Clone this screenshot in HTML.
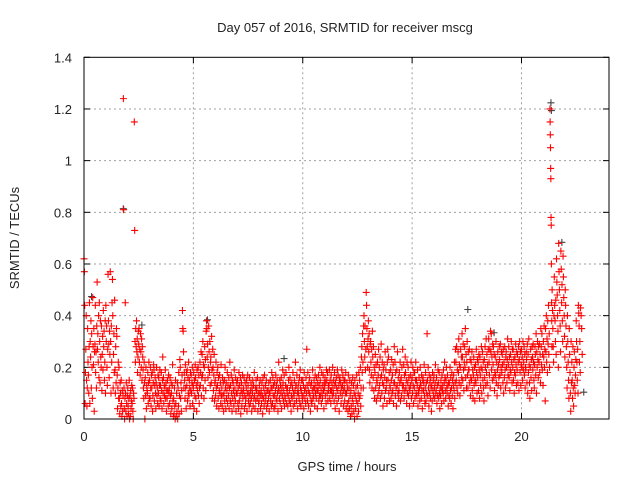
<!DOCTYPE html>
<html><head><meta charset="utf-8"><style>
body{margin:0;background:#fff}
svg{display:block;font-family:"Liberation Sans",sans-serif;font-size:13px;fill:#222}
</style></head><body>
<svg id="c" width="640" height="480" viewBox="0 0 640 480">
<text x="345" y="32" text-anchor="middle">Day 057 of 2016, SRMTID for receiver mscg</text>
<text x="347" y="471" text-anchor="middle">GPS time / hours</text>
<text transform="translate(19,238) rotate(-90)" text-anchor="middle">SRMTID / TECUs</text>
<g id="grid"></g><g id="ticks"></g><g id="pts"></g>
<rect x="84" y="57.3" width="525" height="361.7" fill="none" stroke="#000" stroke-width="1"/>
</svg>
<script>
const xTicks=[0,5,10,15,20];
const yTicks=[0,0.2,0.4,0.6,0.8,1,1.2,1.4];
const yTickLabels=["0","0.2","0.4","0.6","0.8","1","1.2","1.4"];
const binStart=0, binWidth=0.1;
const redBins=[
[62,57,44,6,18,27],[40,15,5,12,35,22],[17,10,28,45,6,30],[24,38,12,33,20,8],[47,28,21,35,3,26],
[29,44,18,26,12,36],[53,27,33,22,40,16],[45,30,14,38,24,20],[36,11,25,32,19,42],[28,34,15,22,38,10],
[44,30,36,20,13,27],[56,38,29,16,34,25],[57,30,10,36,22,45],[54,40,12,25,33,18],[46,19,10,28,14,35],
[32,17,4,12,22,8],[20,8,2,14,10,5],[15,6,1,11,3,9],[124,81,12,4,0,8,45],[10,3,14,6,1,9],
[12,5,2,8,15,0],[9,1,11,4,7,13],[6,12,3,0,10,8],[115,73,30,22,35,28],[38,26,31,18,24,34],
[29,35,22,27,17,33],[26,20,31,15,28,24],[19,12,8,22,14,0],[16,9,20,4,13,11],[10,18,6,14,22,8],
[15,8,20,12,5,17],[12,18,3,9,14,21],[19,7,13,16,10,4],[14,20,9,12,6,17],[10,16,5,13,19,8],
[13,7,18,11,4,15],[24,10,16,6,13,9],[12,19,8,14,3,11],[8,15,11,5,17,10],[12,6,16,9,2,14],
[10,4,13,21,7,1],[8,2,12,5,0,15],[6,1,10,3,14,0],[12,5,18,2,9,23],[20,8,14,3,11,17],
[42,35,34,26,12,18],[15,8,21,12,4,18],[13,19,7,16,10,22],[9,15,12,5,18,11],[17,10,14,20,6,13],
[12,18,4,15,9,21],[16,8,13,3,19,11],[14,20,9,17,6,12],[22,13,18,26,9,16],[25,17,30,12,21,8],
[20,28,15,23,11,34],[38,35,24,29,16,20],[36,26,18,30,13,22],[24,14,32,19,8,27],[20,11,17,25,7,14],
[15,9,22,12,5,18],[13,20,8,16,4,11],[17,10,14,6,21,9],[12,5,16,9,14,3],[10,15,7,20,12,4],
[14,8,11,18,6,13],[9,16,4,12,22,7],[13,6,17,10,3,15],[8,14,11,5,19,9],[12,7,16,3,10,14],
[10,15,6,12,4,18],[7,13,9,16,2,11],[14,5,10,17,8,12],[11,16,4,9,14,6],[8,12,15,3,10,17],
[13,7,10,5,16,9],[6,11,14,8,3,12],[10,15,5,13,8,18],[9,4,12,7,15,11],[12,8,16,3,10,6],
[7,13,10,15,4,9],[11,6,14,9,2,16],[8,12,5,17,10,7],[13,9,15,4,11,6],[6,11,8,14,3,10],
[10,15,7,12,5,18],[12,6,16,9,13,4],[9,14,5,11,17,8],[13,7,15,10,3,12],[22,11,8,15,6,13],
[10,16,4,12,9,19],[14,7,11,17,5,9],[8,13,18,6,12,10],[12,5,9,15,20,7],[11,16,6,13,3,9],
[14,8,12,18,5,10],[9,15,6,11,22,13],[13,7,17,10,4,12],[10,14,8,16,6,19],[12,5,11,15,9,7],
[15,9,13,4,18,11],[8,12,6,16,10,27],[13,7,18,11,5,14],[10,16,9,3,13,7],[14,6,11,19,8,12],
[9,15,12,5,17,10],[13,8,16,11,4,14],[11,17,7,13,9,20],[15,9,12,6,18,10],[8,13,17,11,4,14],
[12,16,9,14,6,19],[15,10,18,7,13,11],[13,19,8,15,11,6],[17,11,14,9,20,12],[10,15,7,18,13,4],
[14,9,16,12,6,19],[11,17,8,13,3,15],[16,10,14,6,12,19],[9,13,17,11,5,15],[12,7,15,10,18,4],
[10,14,6,12,3,17],[7,12,4,15,9,1],[11,5,14,2,8,16],[6,13,3,10,0,15],[9,4,12,7,17,1],
[13,6,10,3,18,8],[15,9,20,5,12,24],[28,18,33,22,12,36],[40,30,24,36,19,27],[49,44,35,28,20,31],
[38,26,33,19,14,29],[30,22,17,27,12,34],[24,16,28,11,20,8],[18,25,12,21,7,15],[14,22,9,17,27,11],
[20,13,24,8,16,29],[17,10,22,14,5,19],[13,21,8,16,26,11],[19,12,15,6,22,27],[15,24,10,18,7,13],
[12,19,8,15,23,10],[17,11,21,6,14,28],[14,22,9,18,12,5],[19,13,26,10,16,8],[11,18,14,22,7,15],
[16,9,20,13,27,11],[13,21,8,17,11,24],[18,12,15,6,22,10],[14,20,9,16,12,5],[11,17,13,22,8,15],
[16,10,20,13,6,18],[12,18,8,15,22,10],[15,9,13,19,5,11],[10,16,12,7,20,14],[13,8,17,11,4,15],
[16,11,14,21,9,6],[12,18,7,14,10,33],[15,9,20,12,5,17],[10,14,8,16,12,3],[13,7,18,11,15,9],
[17,12,8,14,21,10],[11,16,6,13,9,19],[14,8,18,10,4,12],[9,15,12,6,17,11],[13,10,19,7,14,22],
[16,11,8,15,20,12],[10,17,13,5,14,9],[14,8,20,11,16,6],[12,18,9,15,4,13],[17,11,22,8,14,27],
[22,15,28,12,19,10],[26,18,31,14,21,9],[20,27,13,24,16,33],[24,15,29,19,11,22],[28,20,35,16,25,12],
[22,30,17,12,26,19],[19,27,14,23,9,16],[22,15,26,11,19,8],[17,24,13,20,7,15],[21,14,27,18,10,23],
[16,22,11,25,19,8],[24,17,13,20,28,10],[19,26,15,22,12,7],[23,16,28,20,13,31],[18,25,14,21,9,27],
[31,22,17,27,12,34],[26,33,19,24,15,29],[21,28,16,25,11,18],[24,17,30,14,22,9],[19,26,13,21,16,28],
[23,17,29,12,20,26],[18,25,21,14,27,10],[22,16,28,19,12,24],[26,20,14,23,31,17],[21,28,16,24,11,19],
[25,18,30,22,14,27],[20,27,15,23,10,18],[24,17,29,21,13,26],[19,25,14,22,28,11],[23,30,18,26,13,21],
[27,20,24,15,30,19],[22,28,17,25,12,20],[19,26,23,14,29,10],[25,18,31,21,14,8],[20,27,16,23,11,28],
[24,19,29,22,15,12],[21,28,25,17,33,10],[26,20,30,23,16,28],[22,29,18,25,14,35],[28,21,33,19,25,13],
[30,24,36,20,27,7],[35,26,40,22,31,18],[38,29,44,25,33,20],
[120,115,110,105,97,93,78,75,60,45,38,28],
[50,42,35,28,22,40],[55,44,38,30,46,25],[62,53,48,40,34,20],[68,57,50,42,36,26],[65,58,45,52,38,30],
[63,55,47,40,32,24],[50,44,36,28,20,12],[40,30,22,15,8,35],[25,18,10,3,30,14],[22,15,8,28,12,5],
[20,26,13,10,17,23],[38,30,22,15,27,10],[44,41,36,22,30,18],[43,40,35,25]
];
const grayX=[1.75,21.3,21.32,21.8,17.5,5.6,0.3,2.6,9.1,18.7,22.8];
const grayY=[0.81,1.22,1.19,0.68,0.42,0.38,0.47,0.36,0.23,0.33,0.10];
const X=v=>84+v*525/24, Y=v=>419-v*361.7/1.4;
const NS="http://www.w3.org/2000/svg";
const grid=document.getElementById('grid'),ticks=document.getElementById('ticks'),pts=document.getElementById('pts');
function mk(tag,at,parent){const e=document.createElementNS(NS,tag);for(const k in at)e.setAttribute(k,at[k]);parent.appendChild(e);return e;}
xTicks.forEach(t=>{const x=X(t);
 if(t>0){const g=mk('line',{x1:x,x2:x,y1:57.3,y2:419,stroke:'#a0a0a0','stroke-dasharray':'2,3'},grid);
 
 }
 mk('line',{x1:x,x2:x,y1:419,y2:413,stroke:'#000'},ticks);mk('line',{x1:x,x2:x,y1:57.3,y2:63,stroke:'#000'},ticks);
 const l=mk('text',{x:x,y:441,'text-anchor':'middle'},ticks);l.textContent=t;
 
 });
yTicks.forEach((t,i)=>{const y=Y(t);
 if(t>0&&t<1.4){const g=mk('line',{x1:84,x2:609,y1:y,y2:y,stroke:'#a0a0a0','stroke-dasharray':'2,3'},grid);
 
 }
 mk('line',{x1:84,x2:90,y1:y,y2:y,stroke:'#000'},ticks);mk('line',{x1:609,x2:603,y1:y,y2:y,stroke:'#000'},ticks);
 const l=mk('text',{x:72,y:y+5,'text-anchor':'end'},ticks);l.textContent=yTickLabels[i];
 
 });
function plus(x,y,color,name){const p=mk('path',{d:`M${x-3.5},${y}h7M${x},${y-3.5}v7`,stroke:color,'stroke-width':1.1,fill:'none'},pts);
 
 }
grayX.forEach((t,i)=>plus(X(t)+1,Y(grayY[i])-1,'#444','gray-point'));
redBins.forEach((bin,b)=>{bin.forEach((v,j)=>{const t=binStart+b*binWidth+binWidth*j/bin.length;
 plus(X(t),Y(v/100),'#ff0000','red-point');});});
</script>
</body></html>
